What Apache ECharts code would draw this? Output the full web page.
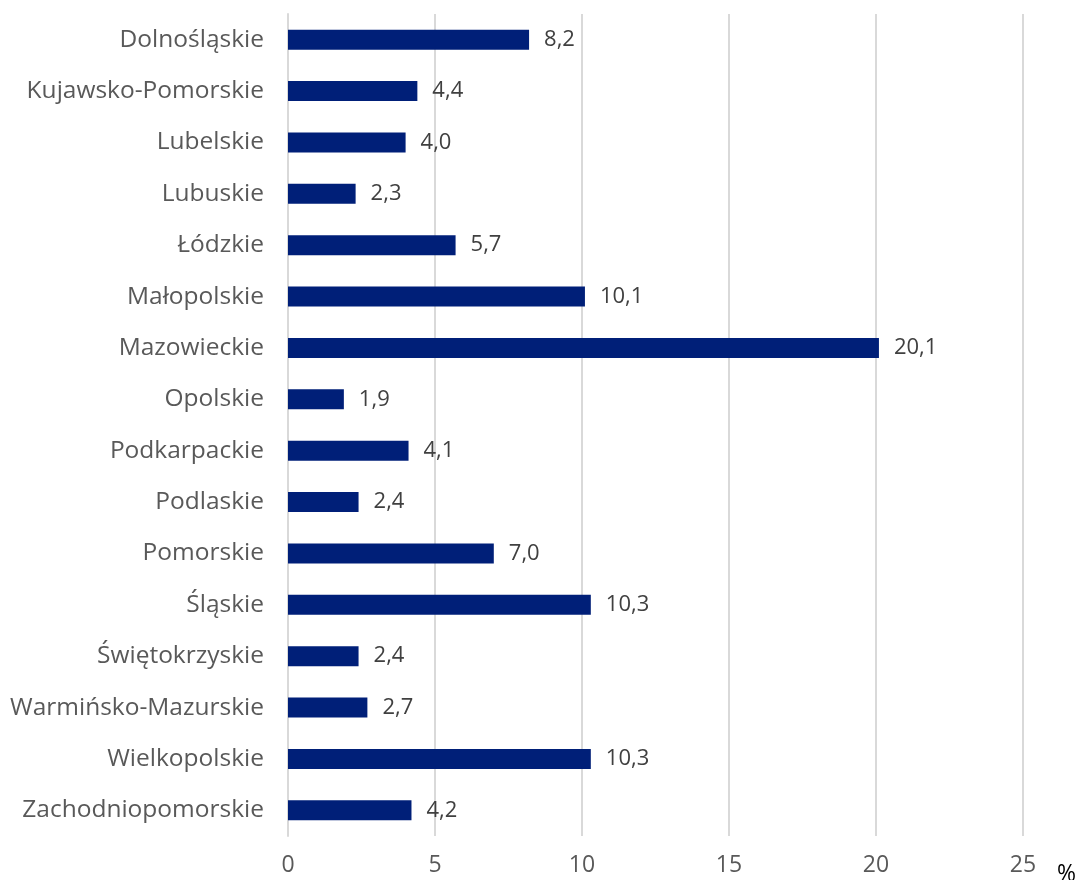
<!DOCTYPE html>
<html>
<head>
<meta charset="utf-8">
<script src="https://cdn.jsdelivr.net/npm/echarts@6/dist/echarts.min.js"></script>
<style>html,body{margin:0;padding:0;background:#fff}#c{width:1078px;height:880px}</style>
</head>
<body>
<div id="c"></div>
<script>
const categories = ['Dolnośląskie','Kujawsko-Pomorskie','Lubelskie','Lubuskie','Łódzkie','Małopolskie','Mazowieckie','Opolskie','Podkarpackie','Podlaskie','Pomorskie','Śląskie','Świętokrzyskie','Warmińsko-Mazurskie','Wielkopolskie','Zachodniopomorskie'];
const values = [8.2,4.4,4.0,2.3,5.7,10.1,20.1,1.9,4.1,2.4,7.0,10.3,2.4,2.7,10.3,4.2];
const axisUnit = '%';
const xMin = 0, xMax = 25, xStep = 5;

const font = '"Open Sans", "Noto Sans", sans-serif';
const chart = echarts.init(document.getElementById('c'), null, {renderer:'canvas'});
chart.setOption({
  animation:false,
  backgroundColor:'#fff',
  grid:{left:288, right:55, top:14, bottom:44, containLabel:false, outerBoundsMode:'none'},
  xAxis:{
    type:'value', min:xMin, max:xMax, interval:xStep,
    name:axisUnit, nameLocation:'end', nameGap:34,
    nameTextStyle:{color:'#000', fontSize:23, fontFamily:font, verticalAlign:'top', padding:[27,0,0,0]},
    axisLine:{show:false}, axisTick:{show:false},
    splitLine:{show:true, lineStyle:{color:'#d9d9d9', width:2}},
    axisLabel:{color:'#595959', fontSize:23, fontFamily:font, margin:18}
  },
  yAxis:{
    type:'category', data:categories, inverse:true,
    axisLine:{show:true, lineStyle:{color:'#d9d9d9', width:2}},
    axisTick:{show:false},
    axisLabel:{color:'#595959', fontSize:24.5, fontFamily:font, margin:24}
  },
  series:[{
    type:'bar', data:values, barWidth:20,
    itemStyle:{color:'#001f78'},
    label:{show:true, position:'right', distance:15, color:'#404040', fontSize:22, fontFamily:font,
      formatter:p=>p.value.toFixed(1).replace('.',',')}
  }]
});
</script>
</body>
</html>
